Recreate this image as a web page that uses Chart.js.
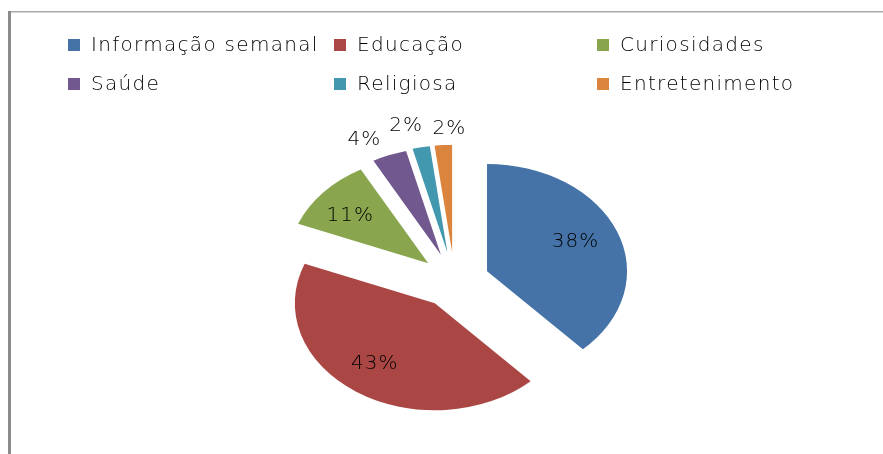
<!DOCTYPE html>
<html><head><meta charset="utf-8">
<script src="https://cdn.jsdelivr.net/npm/chart.js@4/dist/chart.umd.min.js"></script>
<style>html,body{margin:0;padding:0;background:#fff;}canvas{display:block}</style>
</head><body>
<canvas id="c" width="883" height="454"></canvas>
<script>
// ---- data ----
const categories = ['Informação semanal','Educação','Curiosidades','Saúde','Religiosa','Entretenimento'];
const percentages = [38, 43, 11, 4, 2, 2];
const colors = ['#4572A7','#AA4643','#89A54E','#71588F','#4198AF','#DB843D'];

// ---- style constants ----
const SQUASH = 0.765;
const EXPLODE = [35, 35, 35, 37, 38, 38];
const LABEL_R = [0.69, 0.71, 0.71, 1.2, 1.22, 1.15];
const LABEL_DA = [-2, 3, -3, -5.5, -3.2, 2.6]; // degrees
const LEGEND_X = [68, 334, 597];
const LEGEND_Y = [45, 84];
const FONT = '"DejaVu Sans", Verdana, sans-serif';

const piePlugin = {
  id: 'piePlugin',
  beforeDraw(chart) {
    const ctx = chart.ctx;
    ctx.save();
    ctx.fillStyle = '#ffffff';
    ctx.fillRect(0, 0, chart.width, chart.height);
    ctx.fillStyle = '#a8a8a8';
    ctx.fillRect(8, 11, chart.width - 8, 1.5);
    ctx.fillStyle = '#8a8a8a';
    ctx.fillRect(8, 11, 3, chart.height - 11);
    ctx.restore();
  },
  beforeDatasetDraw(chart, args) {
    const ctx = chart.ctx;
    args.meta.data.forEach((arc, i) => {
      const mid = (arc.startAngle + arc.endAngle) / 2;
      ctx.save();
      ctx.translate(arc.x, arc.y);
      ctx.scale(1, SQUASH);
      ctx.translate(Math.cos(mid) * EXPLODE[i], Math.sin(mid) * EXPLODE[i]);
      ctx.translate(-arc.x, -arc.y);
      arc.draw(ctx);
      ctx.restore();
    });
    return false;
  },
  afterDatasetsDraw(chart) {
    const ctx = chart.ctx;
    const meta = chart.getDatasetMeta(0);
    ctx.save();
    ctx.font = '200 20px ' + FONT;
    ctx.letterSpacing = '1px';
    ctx.fillStyle = '#000';
    ctx.textAlign = 'center';
    ctx.textBaseline = 'middle';
    meta.data.forEach((arc, i) => {
      const mid = (arc.startAngle + arc.endAngle) / 2;
      const la = mid + LABEL_DA[i] * Math.PI / 180;
      const vx = arc.x + Math.cos(mid) * EXPLODE[i];
      const vy = arc.y + Math.sin(mid) * EXPLODE[i] * SQUASH;
      const r = LABEL_R[i] * arc.outerRadius;
      const x = vx + Math.cos(la) * r;
      const y = vy + Math.sin(la) * r * SQUASH;
      ctx.fillText(chart.data.datasets[0].data[i] + '%', x, y);
    });
    ctx.restore();
  },
  afterDraw(chart) {
    const ctx = chart.ctx;
    ctx.save();
    ctx.font = '200 20px ' + FONT;
    ctx.letterSpacing = '1.3px';
    ctx.textAlign = 'left';
    ctx.textBaseline = 'middle';
    chart.data.labels.forEach((lab, i) => {
      const col = i % 3, row = Math.floor(i / 3);
      const x = LEGEND_X[col], y = LEGEND_Y[row];
      ctx.fillStyle = chart.data.datasets[0].backgroundColor[i];
      ctx.fillRect(x, y - 6, 12, 12);
      ctx.fillStyle = '#000';
      ctx.fillText(lab, x + 23, y + 1);
    });
    ctx.restore();
  }
};

new Chart(document.getElementById('c'), {
  type: 'pie',
  data: {
    labels: categories,
    datasets: [{
      data: percentages,
      backgroundColor: colors,
      borderWidth: 0
    }]
  },
  options: {
    responsive: false,
    animation: false,
    events: [],
    layout: { padding: { left: 30, right: 4, top: 141, bottom: 33 } },
    plugins: { legend: { display: false }, tooltip: { enabled: false } }
  },
  plugins: [piePlugin]
});
</script>
</body></html>
